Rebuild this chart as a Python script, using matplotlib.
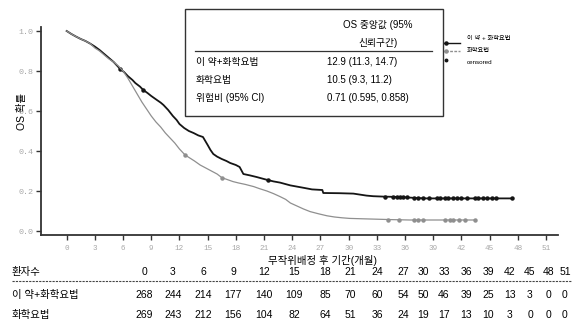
import numpy as np
import matplotlib.pyplot as plt
from matplotlib.patches import Rectangle
from matplotlib.lines import Line2D

plt.rcParams["font.family"] = ["Liberation Sans", "Noto Sans CJK KR"]

W, H = 580, 321

# KM 곡선 (개월, 생존확률)
trt_t = [0, 0.5, 1, 1.5, 2, 2.5, 3, 3.5, 4, 4.5, 5, 5.7, 6.1, 6.5, 7.0, 7.3, 7.8, 8.15, 8.6, 9.0,
         9.6, 10.0, 10.3, 10.8, 11.3, 11.7, 12.0, 12.5, 13.0, 13.5, 14.0, 14.5, 15.0, 15.3, 15.6,
         16.0, 16.5, 17.0, 17.4, 18.0, 18.4, 18.8, 19.5, 20.2, 21.3, 22.0, 22.7, 23.8, 24.5, 25.2,
         26.1, 27.2, 27.3, 29.0, 30.5, 31.2, 31.9, 32.6, 33.7, 35.5, 36.5, 37.2, 38.3]
trt_s = [1.0, 0.985, 0.972, 0.96, 0.95, 0.937, 0.922, 0.905, 0.885, 0.865, 0.845, 0.81, 0.795, 0.775,
         0.755, 0.74, 0.722, 0.705, 0.69, 0.675, 0.655, 0.642, 0.63, 0.605, 0.575, 0.555, 0.535,
         0.515, 0.5, 0.49, 0.478, 0.47, 0.43, 0.405, 0.385, 0.372, 0.36, 0.35, 0.34, 0.33, 0.32,
         0.285, 0.278, 0.27, 0.256, 0.248, 0.242, 0.228, 0.222, 0.216, 0.208, 0.205, 0.19, 0.189,
         0.187, 0.182, 0.177, 0.174, 0.172, 0.17, 0.167, 0.165, 0.163]
trt_end = 47.5

ctl_t = [0, 0.5, 1, 1.5, 2, 2.5, 3, 3.5, 4, 4.5, 5, 5.5, 6.0, 6.5, 7.0, 7.5, 8.0, 8.5, 9.0, 9.5,
         10.0, 10.5, 11.0, 11.5, 12.0, 12.6, 13.1, 13.6, 14.2, 14.8, 15.4, 16.0, 16.5, 17.1, 17.7,
         18.3, 19.0, 19.9, 20.5, 21.3, 22.0, 22.7, 23.3, 23.8, 24.5, 25.2, 25.9, 26.8, 27.7, 28.5,
         29.3, 30.1, 31.5, 33.0, 34.5, 36.5]
ctl_s = [1.0, 0.985, 0.972, 0.96, 0.95, 0.937, 0.915, 0.9, 0.88, 0.86, 0.845, 0.825, 0.8, 0.765,
         0.725, 0.685, 0.645, 0.61, 0.575, 0.545, 0.52, 0.49, 0.465, 0.44, 0.41, 0.38, 0.365, 0.35,
         0.33, 0.315, 0.3, 0.285, 0.267, 0.257, 0.247, 0.24, 0.233, 0.222, 0.212, 0.2, 0.187, 0.172,
         0.158, 0.14, 0.125, 0.11, 0.097, 0.086, 0.076, 0.07, 0.066, 0.063, 0.061, 0.059, 0.057,
         0.055]
ctl_end = 43.4

# 중도절단 시점
trt_cens = [5.7, 8.15, 21.4, 33.9, 34.7, 35.1, 35.5, 35.8, 36.2, 36.9, 37.4, 37.9, 38.5, 39.4,
            39.7, 40.2, 40.6, 41.1, 41.5, 42.0, 42.6, 43.4, 43.8, 44.3, 44.7, 45.2, 45.7, 47.4]
ctl_cens = [12.6, 16.5, 34.2, 35.4, 36.9, 37.4, 37.9, 40.2, 40.8, 41.1, 41.7, 42.4, 43.4]

# 위험 대상자 수
risk_months = [0, 3, 6, 9, 12, 15, 18, 21, 24, 27, 30, 33, 36, 39, 42, 45, 48, 51]
risk_trt = [268, 244, 214, 177, 140, 109, 85, 70, 60, 54, 50, 46, 39, 25, 13, 3, 0, 0]
risk_ctl = [269, 243, 212, 156, 104, 82, 64, 51, 36, 24, 19, 17, 13, 10, 3, 0, 0, 0]
risk_col_x = [144, 173, 203, 233, 264, 294, 325, 350, 377, 403, 423, 444, 466, 488, 510, 530, 549, 565]

arm_names = ["이 약+화학요법", "화학요법"]
median_txt = ["12.9 (11.3, 14.7)", "10.5 (9.3, 11.2)"]
hr_label = "위험비 (95% CI)"
hr_txt = "0.71 (0.595, 0.858)"

BLACK = "#151515"
GREY = "#8f8f8f"


def fx(x):
    return x / W


def fy(y):
    return 1 - y / H


def curve_value(t, s, x):
    # 표시 위치용: 곡선 위 y 값
    return np.interp(x, t, s)


fig = plt.figure(figsize=(W / 100, H / 100), dpi=100)
ax = fig.add_axes([fx(41), fy(235), fx(558) - fx(41), fy(27) - fy(235)])

for t, s, end, cens, col, lw in [(trt_t, trt_s, trt_end, trt_cens, BLACK, 1.3),
                                 (ctl_t, ctl_s, ctl_end, ctl_cens, GREY, 0.9)]:
    tt = list(t) + [end]
    ss = list(s) + [s[-1]]
    ax.plot(tt, ss, color=col, lw=lw)
    cy = curve_value(tt, ss, cens)
    ax.plot(cens, cy, ls="none", marker="o", ms=2.2, color=col)

ax.set_xlim(-2.73, 52.27)
ax.set_ylim(-0.02, 1.02)
ax.set_xticks(risk_months)
ax.set_yticks([0.0, 0.2, 0.4, 0.6, 0.8, 1.0])
ax.set_yticklabels(["0.0", "0.2", "0.4", "0.6", "0.8", "1.0"])
for side in ["top", "right"]:
    ax.spines[side].set_visible(False)
for side in ["left", "bottom"]:
    ax.spines[side].set_color("#333333")
    ax.spines[side].set_linewidth(1.3)
ax.tick_params(axis="both", direction="out", length=3.5, width=1.0, color="#333333",
               labelcolor="#a8a8a8")
ax.tick_params(axis="x", pad=4, labelsize=5.5)
ax.tick_params(axis="y", pad=2, labelsize=6)
for lab in ax.get_xticklabels() + ax.get_yticklabels():
    lab.set_family("Liberation Mono")

fig.text(fx(22), fy(111), "OS 확률", rotation=90, ha="center", va="center", fontsize=7.5)
fig.text(fx(323), fy(260), "무작위배정 후 기간(개월)", ha="center", va="center", fontsize=7.5)

# 중앙값 표
fig.patches.append(Rectangle((fx(185), fy(116)), fx(443) - fx(185), fy(9) - fy(116),
                             transform=fig.transFigure, facecolor="white",
                             edgecolor="#333333", lw=1.0, zorder=5))
fig.text(fx(378), fy(25), "OS 중앙값 (95%", ha="center", va="center", fontsize=7, zorder=6)
fig.text(fx(378), fy(43), "신뢰구간)", ha="center", va="center", fontsize=7, zorder=6)
fig.lines.append(Line2D([fx(195), fx(432)], [fy(51), fy(51)], transform=fig.transFigure,
                        color="#333333", lw=0.9, zorder=6))
rows = [(arm_names[0], median_txt[0]), (arm_names[1], median_txt[1]), (hr_label, hr_txt)]
for (lab, val), y in zip(rows, [62, 80, 98]):
    fig.text(fx(196), fy(y), lab, ha="left", va="center", fontsize=7, zorder=6)
    fig.text(fx(327), fy(y), val, ha="left", va="center", fontsize=7, zorder=6)

# 범례
for y, col, ls in [(43, BLACK, "-"), (51, GREY, (0, (2, 1)))]:
    fig.lines.append(Line2D([fx(433), fx(460)], [fy(y), fy(y)], transform=fig.transFigure,
                            color=col, lw=1.0, ls=ls))
    fig.lines.append(Line2D([fx(446)], [fy(y)], transform=fig.transFigure, color=col,
                            marker="o", ms=2.2, ls="none"))
fig.lines.append(Line2D([fx(446)], [fy(60)], transform=fig.transFigure, color=BLACK,
                        marker="o", ms=1.8, ls="none"))
fig.text(fx(467), fy(39), "이 약 + 화학요법", fontsize=4.5, va="center", ha="left")
fig.text(fx(467), fy(51), "화학요법", fontsize=4.5, va="center", ha="left")
fig.text(fx(467), fy(62), "censored", fontsize=4.5, va="center", ha="left")

# 위험 대상자 표
fig.text(fx(12), fy(272), "환자수", ha="left", va="center", fontsize=7.5)
fig.text(fx(12), fy(295), arm_names[0], ha="left", va="center", fontsize=7.5)
fig.text(fx(12), fy(315), arm_names[1], ha="left", va="center", fontsize=7.5)
for x, m, a, b in zip(risk_col_x, risk_months, risk_trt, risk_ctl):
    fig.text(fx(x), fy(272), str(m), ha="center", va="center", fontsize=7.5)
    fig.text(fx(x), fy(295), str(a), ha="center", va="center", fontsize=7.5)
    fig.text(fx(x), fy(315), str(b), ha="center", va="center", fontsize=7.5)
fig.lines.append(Line2D([fx(12), fx(572)], [fy(281), fy(281)], transform=fig.transFigure,
                        color="#444444", lw=0.8, ls=(0, (2, 1))))

fig.savefig("out.png", dpi=100)
